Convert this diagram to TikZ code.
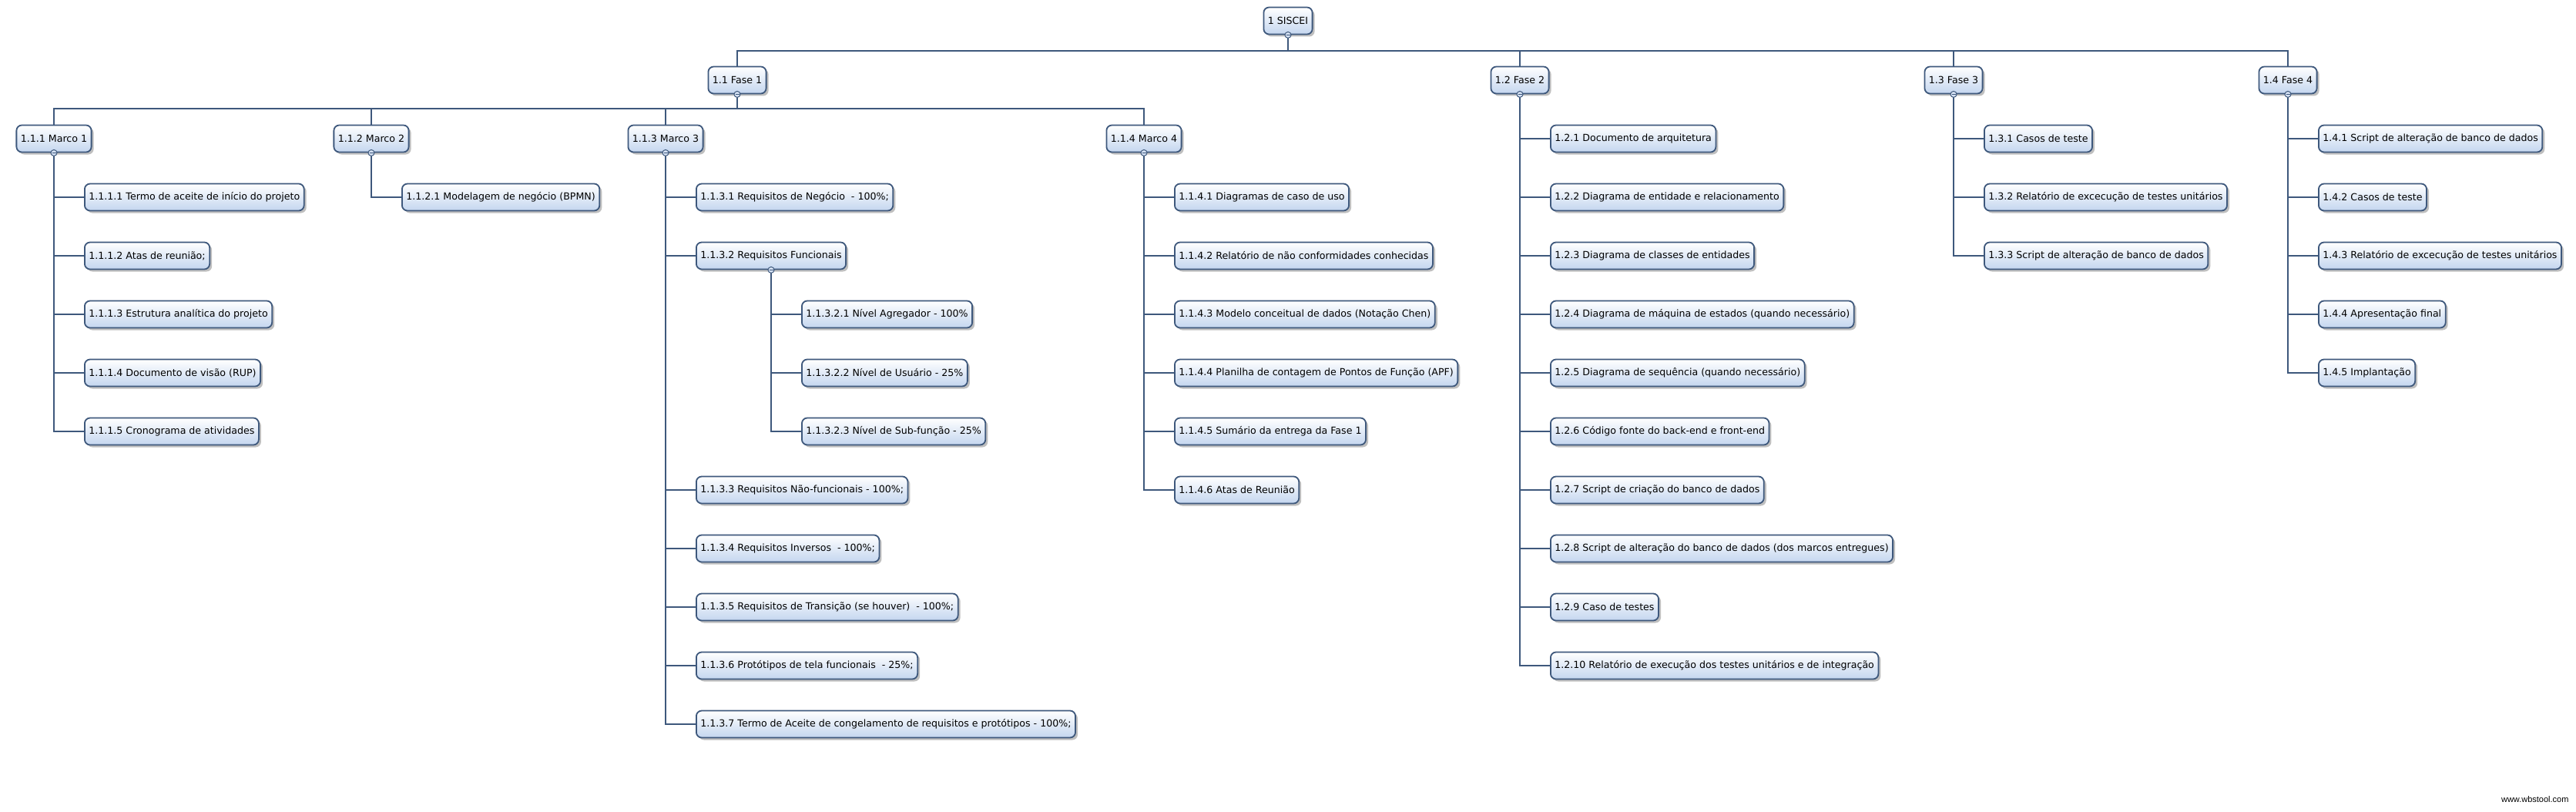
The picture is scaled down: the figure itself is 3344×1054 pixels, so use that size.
\documentclass[tikz,border=0pt]{standalone}
\usepackage{fontspec}
\setmainfont{DejaVu Sans}
\newfontfamily\wmfont{Liberation Sans}
\definecolor{wbsline}{RGB}{62, 88, 124}
\definecolor{wbsfill}{RGB}{196, 214, 239}
\usetikzlibrary{positioning, calc, shadows}

\begin{document}
\begin{tikzpicture}[x=1pt, y=-1pt,
	wbs/.style={draw=wbsline, line width=1.8pt, rounded corners=7pt,
		top color=white, bottom color=wbsfill, minimum height=35pt,
		inner xsep=5.5pt, font=\fontsize{12.6}{15}\selectfont,
		drop shadow={shadow xshift=3pt, shadow yshift=-3pt, fill=black, opacity=0.25}},
	leaf/.style={wbs, anchor=west},
	link/.style={wbsline, line width=2.4pt},
	toggle/.style={draw=wbsline, fill=wbsfill!70, line width=1pt}]
	\useasboundingbox (0,0) rectangle (3344,1054);

	\node[wbs] (root) at (1672,27) {1 SISCEI};
	\foreach \i/\x/\lab in {1/957/{1.1 Fase 1}, 2/1973/{1.2 Fase 2}, 3/2536/{1.3 Fase 3}, 4/2970/{1.4 Fase 4}}{
		\node[wbs] (f\i) at (\x,104) {\lab};
	}
	\foreach \i/\x/\lab in {1/70/{1.1.1 Marco 1}, 2/482/{1.1.2 Marco 2}, 3/864/{1.1.3 Marco 3}, 4/1485/{1.1.4 Marco 4}}{
		\node[wbs] (m\i) at (\x,180) {\lab};
	}
	\coordinate (bus0) at (root.south |- 0,66);
	\coordinate (bus1) at (f1.south |- 0,141);
	\foreach \i in {1,...,4}{
		\draw[link] (root.south) -- (bus0) -| (f\i.north);
		\draw[link] (f1.south) -- (bus1) -| (m\i.north);
	}

	\foreach \k/\lab in {1/{1.1.1.1 Termo de aceite de início do projeto}, 2/{1.1.1.2 Atas de reunião;},
		3/{1.1.1.3 Estrutura analítica do projeto}, 4/{1.1.1.4 Documento de visão (RUP)},
		5/{1.1.1.5 Cronograma de atividades}}{
		\node[leaf] (m1-\k) at ($(m1)+(39,76*\k)$) {\lab};
		\draw[link] (m1.south) |- (m1-\k.west);
	}
	\node[leaf] (m2-1) at ($(m2)+(39,76)$) {1.1.2.1 Modelagem de negócio (BPMN)};
	\draw[link] (m2.south) |- (m2-1.west);

	\foreach \i/\k/\lab in {1/1/{1.1.3.1 Requisitos de Negócio~ - 100\%;}, 2/2/{1.1.3.2 Requisitos Funcionais},
		3/6/{1.1.3.3 Requisitos Não-funcionais - 100\%;}, 4/7/{1.1.3.4 Requisitos Inversos~ - 100\%;},
		5/8/{1.1.3.5 Requisitos de Transição (se houver)~ - 100\%;}, 6/9/{1.1.3.6 Protótipos de tela funcionais~ - 25\%;},
		7/10/{1.1.3.7 Termo de Aceite de congelamento de requisitos e protótipos - 100\%;}}{
		\node[leaf] (m3-\i) at ($(m3)+(39,76*\k)$) {\lab};
		\draw[link] (m3.south) |- (m3-\i.west);
	}
	\foreach \k/\lab in {1/{1.1.3.2.1 Nível Agregador - 100\%}, 2/{1.1.3.2.2 Nível de Usuário - 25\%},
		3/{1.1.3.2.3 Nível de Sub-função - 25\%}}{
		\node[leaf] (m3-2-\k) at ($(m3-2)+(39,76*\k)$) {\lab};
		\draw[link] (m3-2.south) |- (m3-2-\k.west);
	}
	\foreach \k/\lab in {1/{1.1.4.1 Diagramas de caso de uso}, 2/{1.1.4.2 Relatório de não conformidades conhecidas},
		3/{1.1.4.3 Modelo conceitual de dados (Notação Chen)}, 4/{1.1.4.4 Planilha de contagem de Pontos de Função (APF)},
		5/{1.1.4.5 Sumário da entrega da Fase 1}, 6/{1.1.4.6 Atas de Reunião}}{
		\node[leaf] (m4-\k) at ($(m4)+(39,76*\k)$) {\lab};
		\draw[link] (m4.south) |- (m4-\k.west);
	}

	\foreach \k/\lab in {1/{1.2.1 Documento de arquitetura}, 2/{1.2.2 Diagrama de entidade e relacionamento},
		3/{1.2.3 Diagrama de classes de entidades}, 4/{1.2.4 Diagrama de máquina de estados (quando necessário)},
		5/{1.2.5 Diagrama de sequência (quando necessário)}, 6/{1.2.6 Código fonte do back-end e front-end},
		7/{1.2.7 Script de criação do banco de dados}, 8/{1.2.8 Script de alteração do banco de dados (dos marcos entregues)},
		9/{1.2.9 Caso de testes}, 10/{1.2.10 Relatório de execução dos testes unitários e de integração}}{
		\node[leaf] (f2-\k) at ($(f2)+(39,76*\k)$) {\lab};
		\draw[link] (f2.south) |- (f2-\k.west);
	}
	\foreach \k/\lab in {1/{1.3.1 Casos de teste}, 2/{1.3.2 Relatório de excecução de testes unitários},
		3/{1.3.3 Script de alteração de banco de dados}}{
		\node[leaf] (f3-\k) at ($(f3)+(39,76*\k)$) {\lab};
		\draw[link] (f3.south) |- (f3-\k.west);
	}
	\foreach \k/\lab in {1/{1.4.1 Script de alteração de banco de dados}, 2/{1.4.2 Casos de teste},
		3/{1.4.3 Relatório de excecução de testes unitários}, 4/{1.4.4 Apresentação final},
		5/{1.4.5 Implantação}}{
		\node[leaf] (f4-\k) at ($(f4)+(39,76*\k)$) {\lab};
		\draw[link] (f4.south) |- (f4-\k.west);
	}

	\foreach \p in {root,f1,f2,f3,f4,m1,m2,m3,m4,m3-2}{
		\draw[toggle] (\p.south) circle (4pt);
		\draw[wbsline, line width=1.2pt] ($(\p.south)+(-2.5,0)$) -- ($(\p.south)+(2.5,0)$);
	}

	\node[font=\wmfont\fontsize{11}{13}\selectfont, anchor=east] (wm) at (3338,1038) {www.wbstool.com};
\end{tikzpicture}
\end{document}
